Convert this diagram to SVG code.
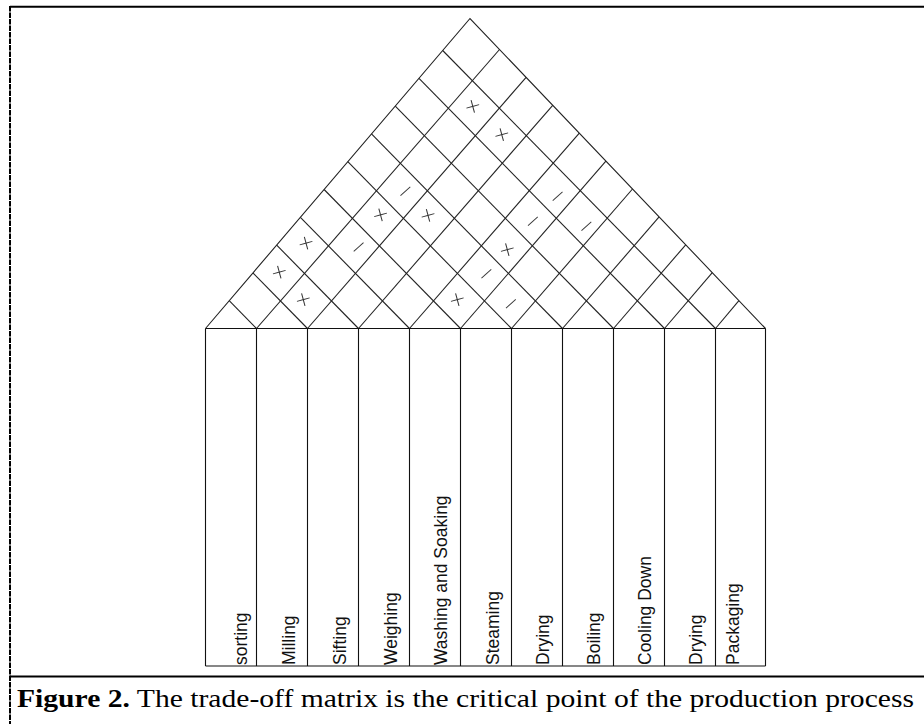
<svg xmlns="http://www.w3.org/2000/svg" width="924" height="724" viewBox="0 0 924 724">
<style>
.ln{stroke:#222;stroke-width:1.1;fill:none}
.col{stroke:#111;stroke-width:1.1;fill:none}
.lab{font-family:"Liberation Sans",Arial,sans-serif;font-size:17.5px;fill:#111}
.mk{font-family:"DejaVu Sans",sans-serif;font-size:21px;font-weight:200;fill:#333;text-anchor:middle;dominant-baseline:central}
.cap{font-family:"Liberation Serif","Times New Roman",serif;font-size:26px;fill:#000}
</style>
<rect x="0" y="0" width="924" height="724" fill="#fff"/>
<g id="frame">
<line x1="10" y1="6.7" x2="924" y2="6.7" stroke="#000" stroke-width="2"/>
<line x1="10" y1="6" x2="10" y2="724" stroke="#000" stroke-width="2" stroke-dasharray="5.5 1"/>
<line x1="10" y1="676.5" x2="924" y2="676.5" stroke="#000" stroke-width="2"/>
</g>
<g id="connectors">
<g id="roof-edges">
<polyline class="ln" points="205.5,328.5 470,18.5 765.5,328.5"/>
</g>
<g id="roof-up-right">
<line class="ln" x1="256.5" y1="328.5" x2="499.5" y2="49.5"/>
<line class="ln" x1="307.5" y1="328.5" x2="526.1" y2="77.4"/>
<line class="ln" x1="358.5" y1="328.5" x2="552.7" y2="105.3"/>
<line class="ln" x1="409.5" y1="328.5" x2="579.3" y2="133.2"/>
<line class="ln" x1="460.5" y1="328.5" x2="605.9" y2="161.1"/>
<line class="ln" x1="511.5" y1="328.5" x2="632.5" y2="189.0"/>
<line class="ln" x1="562.5" y1="328.5" x2="659.1" y2="216.9"/>
<line class="ln" x1="613.5" y1="328.5" x2="685.7" y2="244.8"/>
<line class="ln" x1="664.5" y1="328.5" x2="712.3" y2="272.7"/>
<line class="ln" x1="715.5" y1="328.5" x2="738.9" y2="300.6"/>
</g>
<g id="roof-up-left">
<line class="ln" x1="256.5" y1="328.5" x2="229.2" y2="300.7"/>
<line class="ln" x1="307.5" y1="328.5" x2="252.9" y2="272.9"/>
<line class="ln" x1="358.5" y1="328.5" x2="276.7" y2="245.1"/>
<line class="ln" x1="409.5" y1="328.5" x2="300.4" y2="217.3"/>
<line class="ln" x1="460.5" y1="328.5" x2="324.1" y2="189.5"/>
<line class="ln" x1="511.5" y1="328.5" x2="347.8" y2="161.7"/>
<line class="ln" x1="562.5" y1="328.5" x2="371.5" y2="133.9"/>
<line class="ln" x1="613.5" y1="328.5" x2="395.3" y2="106.1"/>
<line class="ln" x1="664.5" y1="328.5" x2="419.0" y2="78.3"/>
<line class="ln" x1="715.5" y1="328.5" x2="442.7" y2="50.5"/>
</g>
</g>
<g id="marks" opacity="0.99">
<text class="mk" transform="translate(472.7,106) rotate(-15)">+</text>
<text class="mk" transform="translate(501.7,134.3) rotate(-15)">+</text>
<text class="mk" transform="translate(380.5,214.5) rotate(-15)">+</text>
<text class="mk" transform="translate(428,215) rotate(-15)">+</text>
<text class="mk" transform="translate(306,242.7) rotate(-15)">+</text>
<text class="mk" transform="translate(279.3,271.7) rotate(-15)">+</text>
<text class="mk" transform="translate(303.3,299.3) rotate(-15)">+</text>
<text class="mk" transform="translate(457.3,299.3) rotate(-15)">+</text>
<text class="mk" transform="translate(507.3,249.3) rotate(-15)">+</text>
<text class="mk" transform="translate(405,191) rotate(-42)">−</text>
<text class="mk" transform="translate(358.3,246.7) rotate(-42)">−</text>
<text class="mk" transform="translate(557.3,196) rotate(-42)">−</text>
<text class="mk" transform="translate(532.7,221) rotate(-42)">−</text>
<text class="mk" transform="translate(586,226) rotate(-42)">−</text>
<text class="mk" transform="translate(486,273.3) rotate(-42)">−</text>
<text class="mk" transform="translate(510.7,303.3) rotate(-42)">−</text>
</g>
<g id="columns">
<line class="col" x1="205.5" y1="328.5" x2="765.5" y2="328.5"/>
<line class="col" x1="205.5" y1="666" x2="765.5" y2="666"/>
<line class="col" x1="765.5" y1="328.5" x2="765.5" y2="666"/>
<g id="col-sorting"><line class="col" x1="205.5" y1="328.5" x2="205.5" y2="666"/><text class="lab" transform="translate(246.5,665) rotate(-90)">sorting</text></g>
<g id="col-milling"><line class="col" x1="256.5" y1="328.5" x2="256.5" y2="666"/><text class="lab" transform="translate(295,665) rotate(-90)">Milling</text></g>
<g id="col-sifting"><line class="col" x1="307.5" y1="328.5" x2="307.5" y2="666"/><text class="lab" transform="translate(345.5,665) rotate(-90)">Sifting</text></g>
<g id="col-weighing"><line class="col" x1="358.5" y1="328.5" x2="358.5" y2="666"/><text class="lab" transform="translate(396.5,665) rotate(-90)">Weighing</text></g>
<g id="col-washing"><line class="col" x1="409.5" y1="328.5" x2="409.5" y2="666"/><text class="lab" transform="translate(446.5,665) rotate(-90)">Washing and Soaking</text></g>
<g id="col-steaming"><line class="col" x1="460.5" y1="328.5" x2="460.5" y2="666"/><text class="lab" transform="translate(499,665) rotate(-90)">Steaming</text></g>
<g id="col-drying1"><line class="col" x1="511.5" y1="328.5" x2="511.5" y2="666"/><text class="lab" transform="translate(549,665) rotate(-90)">Drying</text></g>
<g id="col-boiling"><line class="col" x1="562.5" y1="328.5" x2="562.5" y2="666"/><text class="lab" transform="translate(599.5,665) rotate(-90)">Boiling</text></g>
<g id="col-cooling"><line class="col" x1="613.5" y1="328.5" x2="613.5" y2="666"/><text class="lab" transform="translate(650.5,665) rotate(-90)">Cooling Down</text></g>
<g id="col-drying2"><line class="col" x1="664.5" y1="328.5" x2="664.5" y2="666"/><text class="lab" transform="translate(701.5,665) rotate(-90)">Drying</text></g>
<g id="col-packaging"><line class="col" x1="715.5" y1="328.5" x2="715.5" y2="666"/><text class="lab" transform="translate(739,665) rotate(-90)">Packaging</text></g>
</g>
<g id="caption">
<text class="cap" x="17" y="707" textLength="897" lengthAdjust="spacingAndGlyphs"><tspan font-weight="bold">Figure 2.</tspan> The trade-off matrix is the critical point of the production process</text>
</g>
</svg>
